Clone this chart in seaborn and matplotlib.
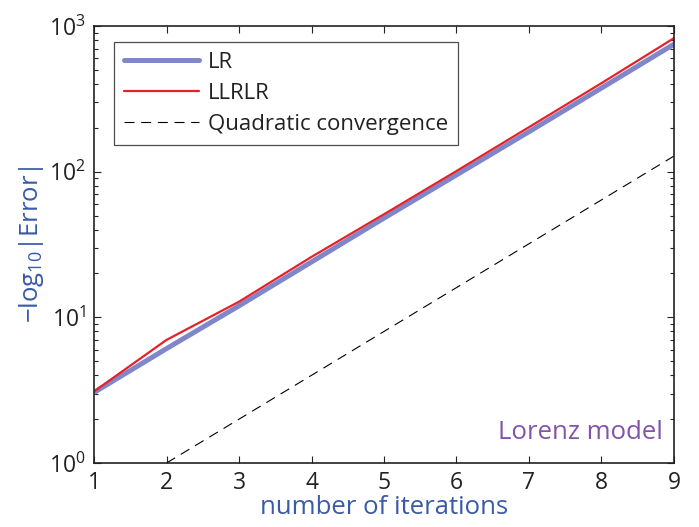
import numpy as np
import pandas as pd
import matplotlib
matplotlib.use("Agg")
import matplotlib.pyplot as plt
import seaborn as sns

iterations = [1, 2, 3, 4, 5, 6, 7, 8, 9]
lr_values = [3.05, 6.1, 12.0, 24.0, 48.0, 95.0, 188.0, 375.0, 750.0]
llrlr_values = [3.1, 7.0, 12.8, 26.0, 51.0, 101.0, 202.0, 405.0, 825.0]
quad_iterations = [2, 3, 4, 5, 6, 7, 8, 9]
quad_values = [1.0, 2.0, 4.0, 8.0, 16.0, 32.0, 64.0, 128.0]

sns.set_style("white")
plt.rcParams['font.family'] = ['Open Sans', 'DejaVu Sans']
plt.rcParams['mathtext.fontset'] = 'custom'
plt.rcParams['mathtext.rm'] = 'Open Sans'
plt.rcParams['mathtext.it'] = 'Open Sans'

df_lr = pd.DataFrame({"x": iterations, "y": lr_values})
df_ll = pd.DataFrame({"x": iterations, "y": llrlr_values})
df_q = pd.DataFrame({"x": quad_iterations, "y": quad_values})

fig = plt.figure(figsize=(6.99, 5.27), dpi=100)
ax = fig.add_axes([0.1345, 0.1214, 0.8297, 0.8293])

sns.lineplot(data=df_lr, x="x", y="y", ax=ax, color="#7f87c9", linewidth=3.6, label="LR")
sns.lineplot(data=df_ll, x="x", y="y", ax=ax, color="#e8202a", linewidth=1.6, label="LLRLR")
sns.lineplot(data=df_q, x="x", y="y", ax=ax, color="black", linewidth=0.8,
             linestyle=(0, (9, 6)), label="Quadratic convergence")

ax.set_yscale("log")
ax.set_xlim(1, 9)
ax.set_ylim(1, 1000)
ax.set_xticks(iterations)
ax.tick_params(axis="both", which="both", direction="in", top=True, right=True,
               left=True, bottom=True, labelsize=16.5, colors="#222222", pad=6)
ax.tick_params(which="major", length=5, width=0.8)
ax.tick_params(which="minor", length=3, width=0.8)
for s in ax.spines.values():
    s.set_color("#222222")
    s.set_linewidth(1.2)

ax.set_xlabel("number of iterations", fontsize=18.5, color="#3a5aa8", labelpad=0)
ax.set_ylabel(r"$-$log$_{10}$|Error|", fontsize=18.5, color="#3a5aa8", labelpad=2)

leg = ax.legend(loc="upper left", bbox_to_anchor=(0.034, 0.963), fontsize=16,
                frameon=True, fancybox=False, handlelength=3.4, borderpad=0.45,
                labelspacing=0.45, handletextpad=0.4, borderaxespad=0)
leg.get_frame().set_edgecolor("#222222")
leg.get_frame().set_linewidth(0.9)
for t in leg.get_texts():
    t.set_color("#222222")

ax.text(0.981, 0.069, "Lorenz model", transform=ax.transAxes, ha="right", va="center",
        fontsize=18.5, color="#8353aa")

fig.savefig("out.png", dpi=100)
